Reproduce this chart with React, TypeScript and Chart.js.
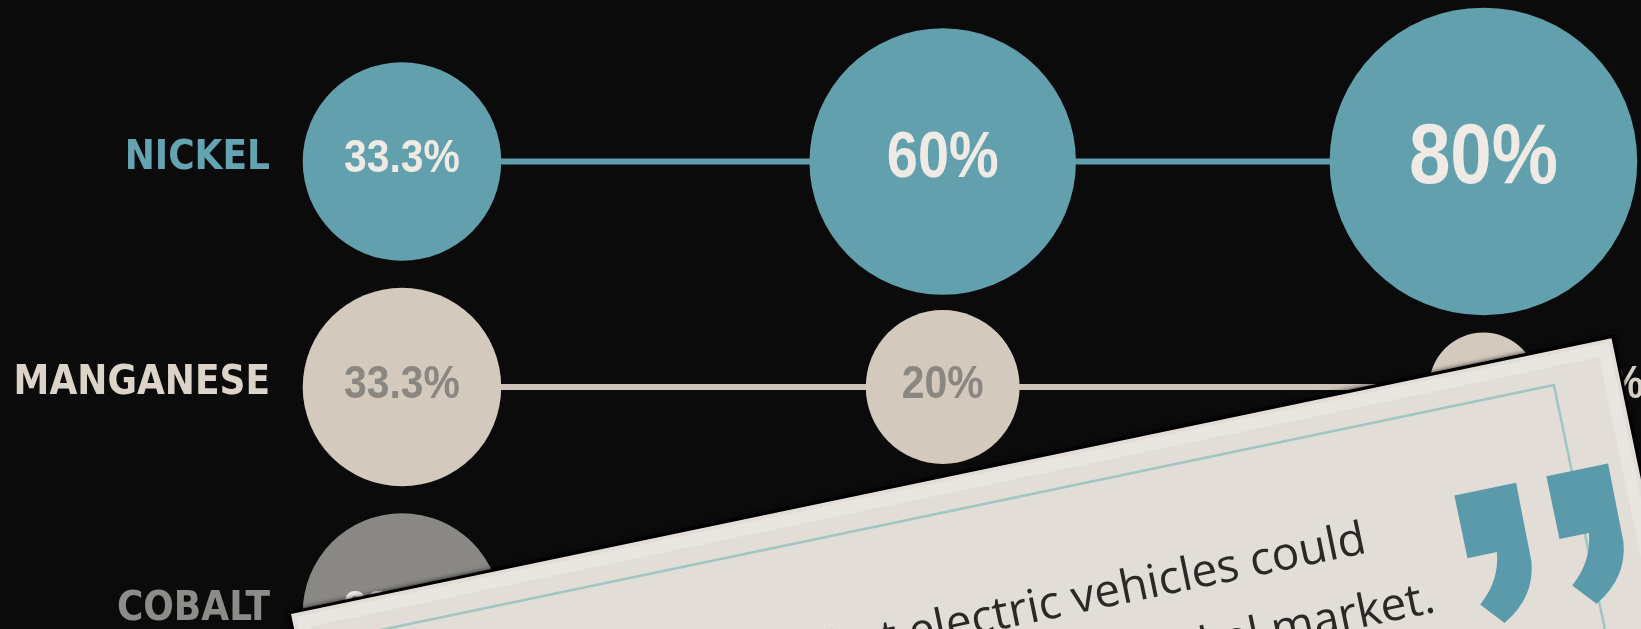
import React, { useEffect, useRef } from 'react';
import { Chart, registerables } from 'chart.js';

Chart.register(...registerables);

// ---- data ----
const chemistries = ['NMC 111', 'NMC 622', 'NMC 811'];
const metals = ['NICKEL', 'MANGANESE', 'COBALT'];
const nickelShare = [33.3, 60, 80];
const manganeseShare = [33.3, 20, 10];
const cobaltShare = [33.3, 20, 10];
const quoteLines = ['that electric vehicles could', 'the nickel market.'];

// ---- styling ----
const seriesShares = [nickelShare, manganeseShare, cobaltShare];
const fillColors = ['#62a0ae', '#d4c9bd', '#8a8885'];
const lineColors = ['#5f9eac', '#cdc3b8', '#8a8885'];
const axisLabelColors = ['#64a3b1', '#dcd4c8', '#8e8c88'];
const innerTextColors = ['#efeae4', '#8a8682', '#eeeae6'];
const outerTextColors = ['#d8d0c6', '#d8d0c6', '#9a9894'];
const RADIUS_K = 17.2;
const CONDENSED = "'DejaVu Sans Condensed', 'DejaVu Sans', sans-serif";
const VALUE_FONT = "'Liberation Sans', Arial, sans-serif";
const BODY = "'Open Sans', 'Noto Sans', sans-serif";
const W = 1641;
const H = 629;

const radiusOf = (v: number) => RADIUS_K * Math.sqrt(v);

const valueLabels = {
  id: 'valueLabels',
  afterDatasetsDraw(chart: any) {
    const ctx = chart.ctx;
    const squeeze = 0.87;
    chart.data.datasets.forEach((_ds: any, di: number) => {
      const meta = chart.getDatasetMeta(di);
      meta.data.forEach((el: any, i: number) => {
        const v = seriesShares[di][i];
        const r = radiusOf(v);
        const size = Math.max(47, 1.07 * v);
        const text = `${v}%`;
        const outside = v < 15;
        const tx = outside ? el.x + r + 24 : el.x;
        ctx.save();
        ctx.translate(tx, el.y - 2);
        ctx.scale(squeeze, 1);
        ctx.font = `bold ${size}px ${VALUE_FONT}`;
        ctx.textBaseline = 'middle';
        ctx.textAlign = outside ? 'left' : 'center';
        ctx.fillStyle = outside ? outerTextColors[di] : innerTextColors[di];
        ctx.fillText(text, 0, 0);
        ctx.restore();
      });
    });
  },
};

const CARD = { x: 291, y: 614, angle: -11.8, w: 1349, h: 700 };

function drawQuoteMark(ctx: CanvasRenderingContext2D, u: number, v: number) {
  ctx.beginPath();
  ctx.moveTo(u, v);
  ctx.lineTo(u + 63, v);
  ctx.lineTo(u + 62, v + 80);
  ctx.quadraticCurveTo(u + 58, v + 116, u + 23, v + 135);
  ctx.lineTo(u + 3, v + 112);
  ctx.quadraticCurveTo(u + 27, v + 92, u + 30, v + 64);
  ctx.lineTo(u, v + 64);
  ctx.closePath();
  ctx.fill();
}

const quoteCard = {
  id: 'quoteCard',
  afterDraw(chart: any) {
    const ctx: CanvasRenderingContext2D = chart.ctx;
    ctx.save();
    ctx.translate(CARD.x, CARD.y);
    ctx.rotate((CARD.angle * Math.PI) / 180);
    // crisp dark edge + soft shadow
    ctx.shadowColor = 'rgba(0,0,0,0.8)';
    ctx.shadowBlur = 5;
    ctx.fillStyle = '#000000';
    ctx.fillRect(-3, -3, CARD.w + 6, CARD.h + 6);
    ctx.shadowColor = 'transparent';
    ctx.shadowBlur = 0;
    ctx.fillStyle = '#e2ddd7';
    ctx.fillRect(0, 0, CARD.w, CARD.h);
    // lighter outer band
    ctx.strokeStyle = '#e9e6e1';
    ctx.lineWidth = 12;
    ctx.strokeRect(10, 10, CARD.w - 20, CARD.h - 20);
    // teal frame
    ctx.strokeStyle = '#9ec6c2';
    ctx.lineWidth = 2.5;
    ctx.beginPath();
    ctx.moveTo(-20, 34);
    ctx.lineTo(1283, 34);
    ctx.lineTo(1283, CARD.h);
    ctx.stroke();
    // quote text
    ctx.fillStyle = '#2b2826';
    ctx.font = `46px ${BODY}`;
    ctx.textAlign = 'right';
    ctx.textBaseline = 'alphabetic';
    ctx.fillText(quoteLines[0], 1067, 160);
    ctx.fillText(quoteLines[1], 1122, 232);
    // closing quote marks
    ctx.fillStyle = '#5b9aaa';
    drawQuoteMark(ctx, 1163, 122);
    drawQuoteMark(ctx, 1257, 122);
    ctx.restore();
  },
};

export default function App() {
  const ref = useRef<HTMLCanvasElement | null>(null);

  useEffect(() => {
    document.body.style.margin = '0';
    document.body.style.background = '#0c0b0b';
    const canvas = ref.current;
    if (!canvas) return;
    const chart = new Chart(canvas, {
      type: 'line',
      data: {
        labels: chemistries,
        datasets: metals.map((m, di) => ({
          label: m,
          data: seriesShares[di].map((_v, i) => ({ x: i, y: di })),
          borderColor: lineColors[di],
          borderWidth: 6,
          backgroundColor: fillColors[di],
          pointBackgroundColor: fillColors[di],
          pointBorderWidth: 0,
          pointRadius: (c: any) => radiusOf(seriesShares[di][c.dataIndex]),
          pointHoverRadius: (c: any) => radiusOf(seriesShares[di][c.dataIndex]),
          tension: 0,
          clip: false as any,
        })),
      },
      options: {
        animation: false,
        responsive: false,
        events: [],
        layout: { padding: 0, autoPadding: false },
        plugins: { legend: { display: false }, tooltip: { enabled: false } },
        scales: {
          x: {
            type: 'linear',
            display: false,
            min: -0.2071,
            max: 2.2914,
          },
          y: {
            type: 'linear',
            reverse: true,
            min: -0.716,
            max: 2.073,
            afterBuildTicks: (s: any) => {
              s.ticks = metals.map((_m, i) => ({ value: i }));
            },
            afterFit: (s: any) => {
              s.width = 290;
              s.paddingTop = 0;
              s.paddingBottom = 0;
            },
            grid: { display: false, drawTicks: false },
            border: { display: false },
            ticks: {
              autoSkip: false,
              padding: 20,
              labelOffset: -3,
              callback: (v: any) => metals[Math.round(Number(v))],
              color: (c: any) => axisLabelColors[c.index],
              font: { family: CONDENSED, size: 40, weight: 'bold' },
            },
          },
        },
      },
      plugins: [valueLabels, quoteCard],
    } as any);
    return () => chart.destroy();
  }, []);

  return (
    <div style={{ position: 'fixed', left: 0, top: 0, width: W, height: H, background: '#0c0b0b' }}>
      <canvas ref={ref} width={W} height={H} style={{ display: 'block' }} />
    </div>
  );
}
